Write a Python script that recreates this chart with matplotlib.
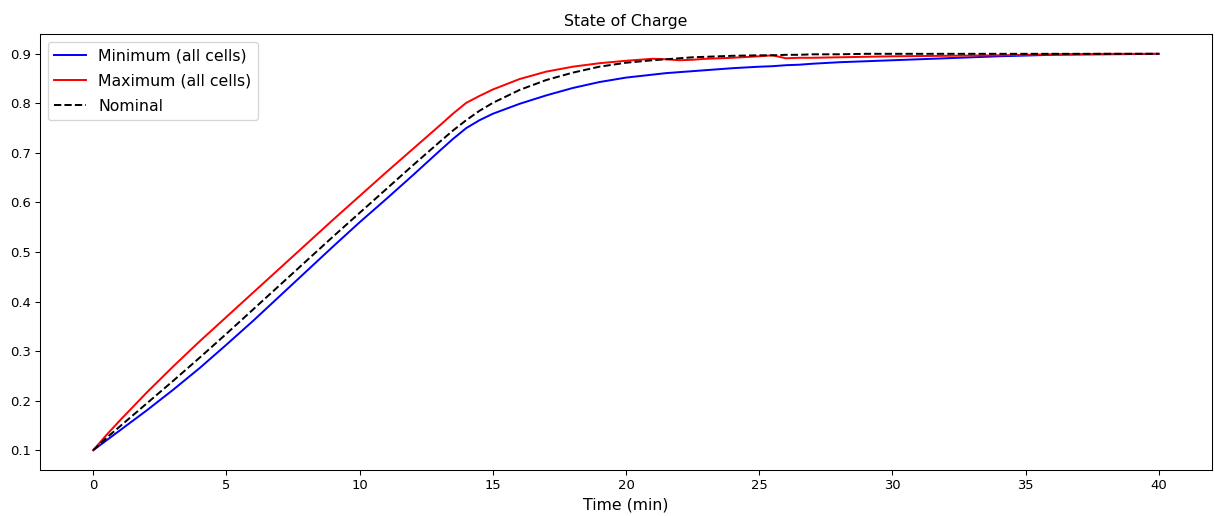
import matplotlib
matplotlib.use("Agg")
import matplotlib.pyplot as plt

# time axis (min) and state of charge per series
time_min = [0, 0.5, 1, 2, 3, 4, 5, 6, 7, 8, 9, 10, 11, 12, 13, 13.5, 14, 14.5, 15,
            16, 17, 18, 19, 20, 21, 21.5, 22, 22.5, 23, 24, 25, 25.5, 26, 26.5, 27,
            28, 29, 30, 32, 34, 36, 38, 40]

soc_min = [0.100, 0.120, 0.140, 0.180, 0.222, 0.266, 0.313, 0.361, 0.411, 0.461,
           0.511, 0.560, 0.607, 0.655, 0.704, 0.728, 0.750, 0.766, 0.779,
           0.799, 0.816, 0.831, 0.843, 0.852, 0.858, 0.861, 0.863, 0.865, 0.867,
           0.871, 0.874, 0.875, 0.877, 0.878, 0.880, 0.883, 0.885, 0.887, 0.891,
           0.895, 0.898, 0.899, 0.900]

soc_max = [0.100, 0.131, 0.160, 0.216, 0.269, 0.320, 0.369, 0.418, 0.467, 0.516,
           0.565, 0.613, 0.661, 0.708, 0.755, 0.779, 0.801, 0.815, 0.828,
           0.849, 0.864, 0.874, 0.881, 0.886, 0.890, 0.889, 0.887, 0.888, 0.890,
           0.892, 0.895, 0.897, 0.891, 0.892, 0.892, 0.893, 0.894, 0.895, 0.896,
           0.897, 0.899, 0.900, 0.900]

soc_nominal = [0.100, 0.125, 0.148, 0.194, 0.240, 0.287, 0.335, 0.384, 0.433, 0.482,
               0.531, 0.579, 0.627, 0.675, 0.722, 0.745, 0.766, 0.785, 0.801,
               0.827, 0.847, 0.862, 0.874, 0.882, 0.887, 0.889, 0.891, 0.893, 0.894,
               0.896, 0.897, 0.897, 0.898, 0.898, 0.899, 0.899, 0.900, 0.900, 0.900,
               0.900, 0.900, 0.900, 0.900]

DPI = 94.5
fig = plt.figure(figsize=(1215 / DPI, 516 / DPI), dpi=DPI)
ax = fig.add_axes([40 / 1215, 1 - 470 / 516, 1172 / 1215, 436 / 516])

ax.plot(time_min, soc_min, color="blue", label="Minimum (all cells)")
ax.plot(time_min, soc_max, color="red", label="Maximum (all cells)")
ax.plot(time_min, soc_nominal, color="black", linestyle="--", label="Nominal")

ax.set_title("State of Charge", fontsize=12)
ax.set_xlabel("Time (min)", fontsize=12)
ax.legend(loc="upper left", fontsize=12, labelspacing=0.65)

fig.savefig("out.png", dpi=DPI)
